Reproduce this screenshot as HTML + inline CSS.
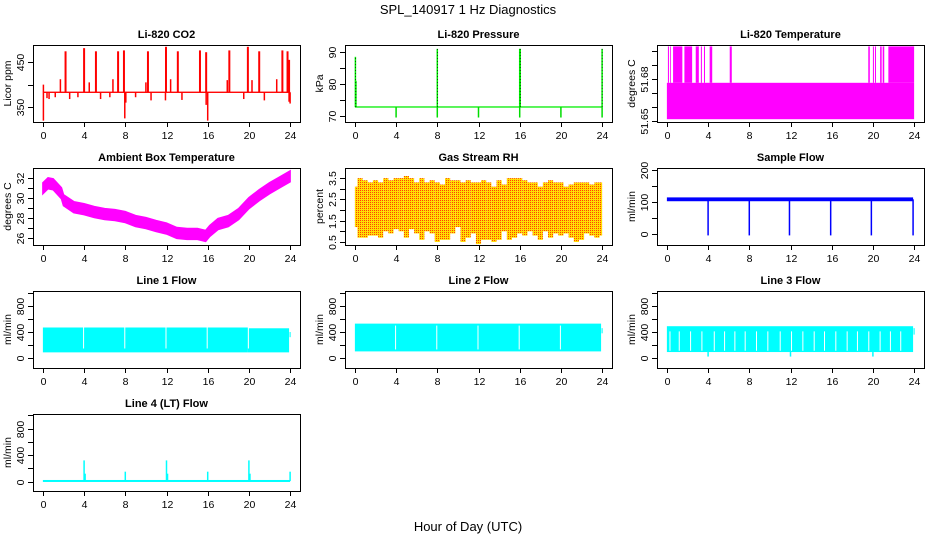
<!DOCTYPE html>
<html><head><meta charset="utf-8"><style>
html,body{margin:0;padding:0;background:#fff;}
svg{display:block;font-family:"Liberation Sans",sans-serif;}
</style></head><body>
<svg id="c" width="936" height="540" viewBox="0 0 936 540">
<defs><pattern id="rhpat" width="2" height="2" patternUnits="userSpaceOnUse"><rect width="2" height="2" fill="#ffdd00"/><rect width="1" height="1" fill="#ff4000"/></pattern></defs>
<text x="468" y="14" text-anchor="middle" font-size="13">SPL_140917  1 Hz Diagnostics</text>
<text x="468" y="531" text-anchor="middle" font-size="13">Hour of Day (UTC)</text>
</svg>
<script>
// ---- data ----
const xTicks = [0,4,8,12,16,20,24];
const co2Base = 383;
const co2SpikeHours = [2.2,4.0,5.15,7.3,7.87,10.2,11.95,13.1,15.25,15.85,18.1,19.9,21.0,23.25,23.75,23.9];
const co2SpikeValues = [474,481,474,474,476,474,484,474,476,472,476,484,474,476,474,455];
const co2BumpHours = [0.05,1.7,4.5,6.8,10.0,12.4,17.9,20.3,22.7];
const co2BumpValues = [400,412,405,412,405,412,410,410,412];
const co2DipHours = [0.05,0.4,0.6,1.2,2.6,3.4,5.6,6.5,7.95,8.05,9.0,10.5,11.9,13.5,15.85,16.0,19.5,21.5,23.9,24.0];
const co2DipValues = [320,370,368,372,368,372,368,372,325,360,372,365,365,366,355,320,368,365,362,358];
const co2Ticks = [350,400,450];
const co2Labels = ["350","","450"];

const presBase = 72.8;
const presSpikeHours = [0.05,0.1,8.0,16.0,16.05,24.0];
const presSpikeValues = [88.5,81,91,91,91,91];
const presDipHours = [4,8,12,16,20,24];
const presDipValues = [69.5,69.5,69.5,69.5,69.5,69.5];
const presTicks = [70,75,80,85,90];
const presLabels = ["70","","80","","90"];

const ltLow = 51.651, ltMid = 51.677, ltHigh = 51.703;
const ltHighStarts = [0.1,0.3,0.6,1.7,2.8,3.3,3.6,4.15,6.1,19.55,20.0,20.2,20.7,20.95,21.5];
const ltHighEnds =   [0.2,0.35,1.5,2.45,3.1,3.4,3.7,4.4,6.3,19.7,20.1,20.3,20.85,21.1,24.0];
const ltTicks = [51.65,51.66,51.67,51.68,51.69,51.70];
const ltLabels = ["51.65","","","51.68","",""];

const ambHours = [0,0.5,1,1.8,2,3,4,5,6,7,8,9,10,11,12,13,14,15,15.8,16.2,17,18,19,20,21,22,23,24];
const ambValues = [31.0,31.5,31.4,30.5,29.8,29.1,28.9,28.6,28.4,28.3,28.1,27.7,27.5,27.2,26.95,26.5,26.4,26.4,26.2,26.7,27.4,27.7,28.4,29.5,30.3,31.0,31.6,32.2];
const ambSpread = 0.55;
const ambTicks = [26,27,28,29,30,31,32];
const ambLabels = ["26","","28","","30","","32"];

const rhMax = [3.1,3.5,3.4,3.3,3.4,3.3,3.5,3.4,3.5,3.5,3.6,3.5,3.3,3.5,3.3,3.4,3.3,3.2,3.5,3.4,3.4,3.3,3.4,3.3,3.3,3.4,3.3,3.1,3.4,3.2,3.5,3.5,3.5,3.4,3.3,3.3,3.1,3.3,3.4,3.3,3.3,3.1,3.2,3.3,3.3,3.3,3.2,3.3,3.3];
const rhMin = [1.2,0.7,0.7,0.8,0.8,0.7,1.0,0.9,1.1,1.0,0.7,1.1,0.9,0.6,1.0,0.9,0.5,0.6,0.6,0.9,1.2,0.5,0.7,0.9,0.4,0.6,0.6,0.5,0.6,1.0,0.6,0.7,0.9,0.8,1.0,0.8,0.6,1.0,0.7,0.9,0.8,0.9,0.7,0.5,0.6,0.9,0.8,0.7,0.8];
const rhTicks = [0.5,1,1.5,2,2.5,3,3.5];
const rhLabels = ["0.5","","1.5","","2.5","","3.5"];

const sfBase = 108, sfSpread = 6;
const sfDipHours = [4,8,11.9,15.9,19.85,23.9];
const sfDipValues = [-5,-5,-5,-5,-5,-5];
const sfTicks = [0,50,100,150,200];
const sfLabels = ["0","","100","","200"];

const flowTicks = [0,200,400,600,800,1000];
const flowLabels = ["0","","400","","800",""];
const l1Top = 470, l1TopLate = 458, l1Bottom = 85, l1Tail = 360;
const l1GapHours = [3.95,7.95,11.95,15.95,19.95];
const l2Top = 530, l2Bottom = 100, l2Tail = 420;
const l2GapHours = [3.95,7.95,11.95,15.95,19.95];
const l3Top = 490, l3Bottom = 90, l3Notch = 410, l3Tail = 400;
const l3NotchHours = [0.3,1.2,2.3,3.4,4.6,5.6,6.6,7.6,8.7,9.8,11.0,12.1,13.2,14.3,15.3,16.4,17.5,18.5,19.6,20.7,21.7,22.7];
const l3DipHours = [4,12,20];
const l3DipValues = [20,20,20];
const l4Base = 10;
const l4SpikeHours = [4,4.1,8,12,12.1,16,20,20.1,24];
const l4SpikeValues = [320,120,150,320,120,150,320,120,150];

// ---- drawing ----
const svg = document.getElementById('c');
const NS = 'http://www.w3.org/2000/svg';
function mk(tag, attrs, parent){const e=document.createElementNS(NS,tag);for(const k in attrs)e.setAttribute(k,attrs[k]);(parent||svg).appendChild(e);return e;}

function panel(name, title, ytitle, left, top, ymin, ymax, ticks, labels){
  const g = mk('g',{});
  
  
  const W=267,H=77;
  const p = {g, left, top, W, H,
    sx: h => left + (h + 0.96) / 25.92 * W,
    sy: v => top + H - (v - ymin) / (ymax - ymin) * H};
  p.plot = mk('g',{},g);
  
  
  p.finish = function(){
    const box = mk('rect',{x:left+0.5,y:top+0.5,width:W,height:H,fill:'none',stroke:'#000','stroke-width':1},g);
    
    
    const xa = mk('g',{},g);
    
    
    mk('line',{x1:p.sx(xTicks[0]),x2:p.sx(xTicks[xTicks.length-1]),y1:top+H+0.5,y2:top+H+0.5,stroke:'#000'},xa);
    xTicks.forEach(t=>{
      const x=Math.round(p.sx(t))+0.5;
      mk('line',{x1:x,x2:x,y1:top+H,y2:top+H+5,stroke:'#000'},xa);
      const tx=mk('text',{x:x,y:top+H+17,'text-anchor':'middle','font-size':10.5},xa);
      tx.textContent=t;
    });
    const ya = mk('g',{},g);
    
    
    ticks.forEach((t,i)=>{
      const y=Math.round(p.sy(t))+0.5;
      mk('line',{x1:left-5,x2:left,y1:y,y2:y,stroke:'#000'},ya);
      if(labels[i]){
        const tx=mk('text',{x:left-9,y:y,'text-anchor':'middle','font-size':10.5,transform:`rotate(-90 ${left-9} ${y})`},ya);
        tx.textContent=labels[i];
      }
    });
    const yt=mk('text',{x:left-22,y:top+H/2,'text-anchor':'middle','font-size':10.5,transform:`rotate(-90 ${left-22} ${top+H/2})`},g);
    yt.textContent=ytitle;
    
    
    const tt=mk('text',{x:left+W/2,y:top-7,'text-anchor':'middle','font-size':11,'font-weight':'bold'},g);
    tt.textContent=title;
    
    
  };
  return p;
}
function vline(p,h,v1,v2,color,w,extra){
  return mk('line',Object.assign({x1:p.sx(h),x2:p.sx(h),y1:p.sy(v1),y2:p.sy(v2),stroke:color,'stroke-width':w||1.5},extra||{}),p.plot);
}
function band(p,h1,h2,v1,v2,color){
  const y1=p.sy(v2),y2=p.sy(v1);
  return mk('rect',{x:p.sx(h1),y:y1,width:Math.max(0.8,p.sx(h2)-p.sx(h1)),height:y2-y1,fill:color},p.plot);
}

const cols=[33,345,657], rows=[45,168,291,414];

// CO2
let p = panel('co2','Li-820 CO2','Licor ppm',cols[0],rows[0],317,488,co2Ticks,co2Labels);
co2DipHours.forEach((h,i)=>vline(p,h,co2Base,co2DipValues[i],'#ff0000',1.5));
co2BumpHours.forEach((h,i)=>vline(p,h,co2Base,co2BumpValues[i],'#ff0000',1.5));
band(p,0,24,co2Base-1.5,co2Base+1.5,'#ff0000');
co2SpikeHours.forEach((h,i)=>vline(p,h,co2Base,co2SpikeValues[i],'#ff0000',2));
p.finish();

// Pressure
p = panel('pressure','Li-820 Pressure','kPa',cols[1],rows[0],68.1,92.2,presTicks,presLabels);
band(p,0,24,presBase-0.2,presBase+0.2,'#00ee00');
presDipHours.forEach((h,i)=>vline(p,h,presBase,presDipValues[i],'#00dd00',1.5));
presSpikeHours.forEach((h,i)=>{vline(p,h,presBase,presSpikeValues[i],'#00ee00',1.5);vline(p,h,presBase,presSpikeValues[i],'#000',0.6,{'stroke-dasharray':'1 2'});});
p.finish();

// Li-820 temperature
p = panel('li820-temp','Li-820 Temperature','degrees C',cols[2],rows[0],51.649,51.704,ltTicks,ltLabels);
band(p,0,24,ltLow,ltMid,'#ff00ff');
ltHighStarts.forEach((h,i)=>band(p,h,ltHighEnds[i],ltMid,ltHigh,'#ff00ff'));
p.finish();

// Ambient
p = panel('ambient-temp','Ambient Box Temperature','degrees C',cols[0],rows[1],25.29,33.04,ambTicks,ambLabels);
{
  let up=ambHours.map((h,i)=>p.sx(h)+','+p.sy(ambValues[i]+ambSpread));
  let dn=ambHours.map((h,i)=>p.sx(h)+','+p.sy(ambValues[i]-ambSpread)).reverse();
  mk('polygon',{points:up.concat(dn).join(' '),fill:'#ff00ff',stroke:'#ff00ff','stroke-width':1.5},p.plot);
}
p.finish();

// RH
p = panel('gas-rh','Gas Stream RH','percent',cols[1],rows[1],0.357,3.976,rhTicks,rhLabels);
rhMax.forEach((mx,i)=>{const h=i*0.5;band(p,Math.max(0,h-0.25),Math.min(24,h+0.25),rhMin[i],mx,'url(#rhpat)');});
p.finish();

// Sample flow
p = panel('sample-flow','Sample Flow','ml/min',cols[2],rows[1],-35,206,sfTicks,sfLabels);
band(p,0,23.9,sfBase-sfSpread,sfBase+sfSpread,'#0000ff');
sfDipHours.forEach((h,i)=>vline(p,h,sfBase,sfDipValues[i],'#0000ff',1.5));
p.finish();

// Line 1
p = panel('line1-flow','Line 1 Flow','ml/min',cols[0],rows[2],-157,1035,flowTicks,flowLabels);
band(p,0,19.9,l1Bottom,l1Top,'#00ffff');
band(p,19.9,23.9,l1Bottom,l1TopLate,'#00ffff');
band(p,23.95,24.05,l1Tail-40,l1Tail+40,'#00ffff');
l1GapHours.forEach(h=>vline(p,h,l1Bottom+60,l1Top+5,'#fff',1));
p.finish();

// Line 2
p = panel('line2-flow','Line 2 Flow','ml/min',cols[1],rows[2],-157,1035,flowTicks,flowLabels);
band(p,0,23.9,l2Bottom,l2Top,'#00ffff');
band(p,23.95,24.05,l2Tail-40,l2Tail+40,'#00ffff');
l2GapHours.forEach(h=>vline(p,h,l2Bottom+30,l2Top-30,'#fff',1));
p.finish();

// Line 3
p = panel('line3-flow','Line 3 Flow','ml/min',cols[2],rows[2],-157,1035,flowTicks,flowLabels);
band(p,0,23.9,l3Bottom,l3Top,'#00ffff');
band(p,23.95,24.05,l3Tail-40,l3Tail+60,'#00ffff');
l3NotchHours.forEach(h=>vline(p,h,l3Bottom+20,l3Notch,'#fff',1));
l3DipHours.forEach((h,i)=>vline(p,h,l3Bottom,l3DipValues[i],'#00ffff',1.5));
p.finish();

// Line 4
p = panel('line4-flow','Line 4 (LT) Flow','ml/min',cols[0],rows[3],-141,1019,flowTicks,flowLabels);
band(p,0,24,l4Base-15,l4Base+15,'#00ffff');
l4SpikeHours.forEach((h,i)=>vline(p,h,l4Base,l4SpikeValues[i],'#00ffff',1.5));
p.finish();
</script>
</body></html>
